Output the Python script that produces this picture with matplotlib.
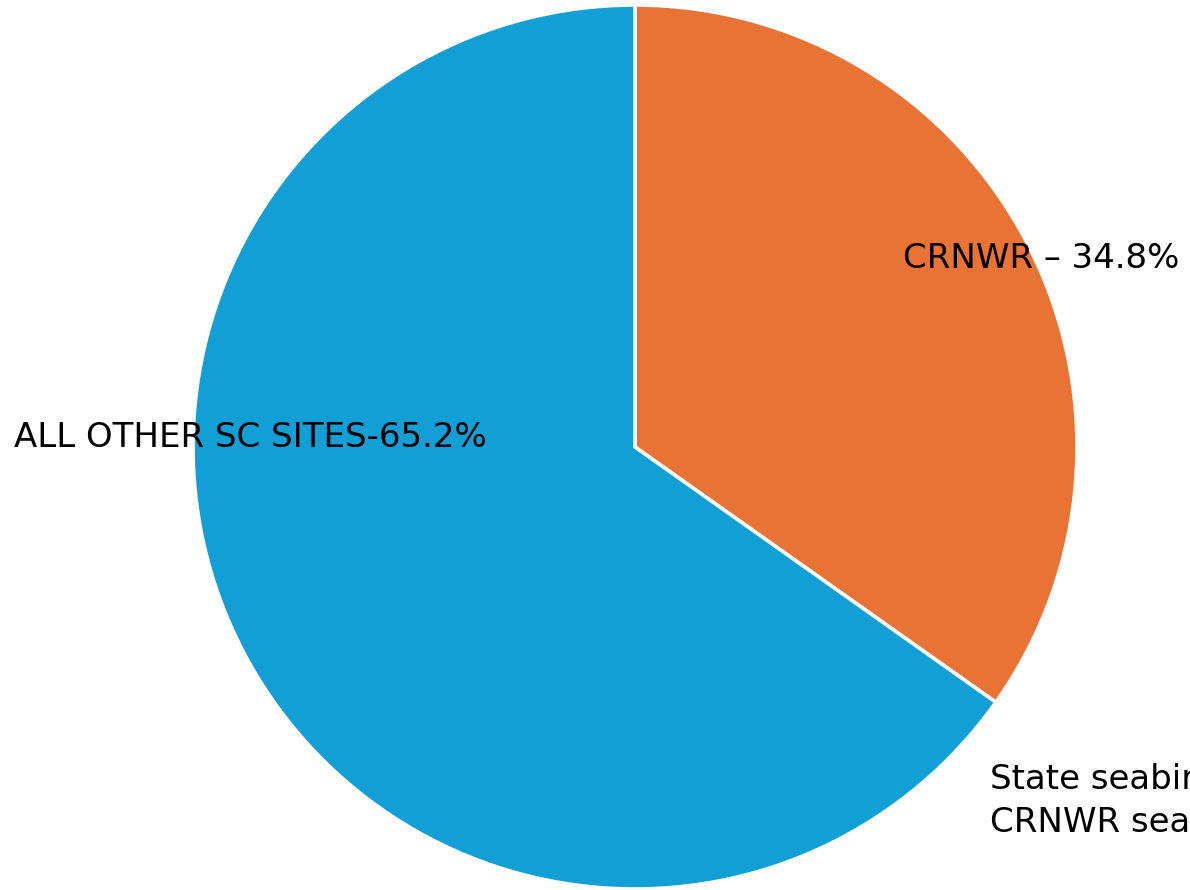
import matplotlib
matplotlib.use("Agg")
import matplotlib.pyplot as plt

categories = ["CRNWR", "ALL OTHER SC SITES"]
values = [34.8, 65.2]
colors = ["#E87334", "#119FD6"]
labels = ["CRNWR \u2013 34.8%", "ALL OTHER SC SITES-65.2%",
          "State seabird sanctuaries within\nCRNWR seabird nesting areas"]

W, H = 1190, 890
fig = plt.figure(figsize=(W / 100, H / 100), dpi=100)
cx, cy, r = 635, 447, 442
ax = fig.add_axes([(cx - r) / W, (H - cy - r) / H, 2 * r / W, 2 * r / H])
ax.pie(values, colors=colors, startangle=90, counterclock=False,
       wedgeprops=dict(edgecolor="white", linewidth=2.6), radius=1)
ax.set_xlim(-1, 1)
ax.set_ylim(-1, 1)
ax.set_aspect("equal")
ax.axis("off")

fs = 24.5
pos = [(903, 258), (14, 437), (990, 801)]
for (px, py), t in zip(pos, labels):
    fig.text(px / W, 1 - py / H, t, fontsize=fs, ha="left", va="center",
             family="DejaVu Sans", color="black", linespacing=1.38)

fig.savefig("out.png", dpi=100)
